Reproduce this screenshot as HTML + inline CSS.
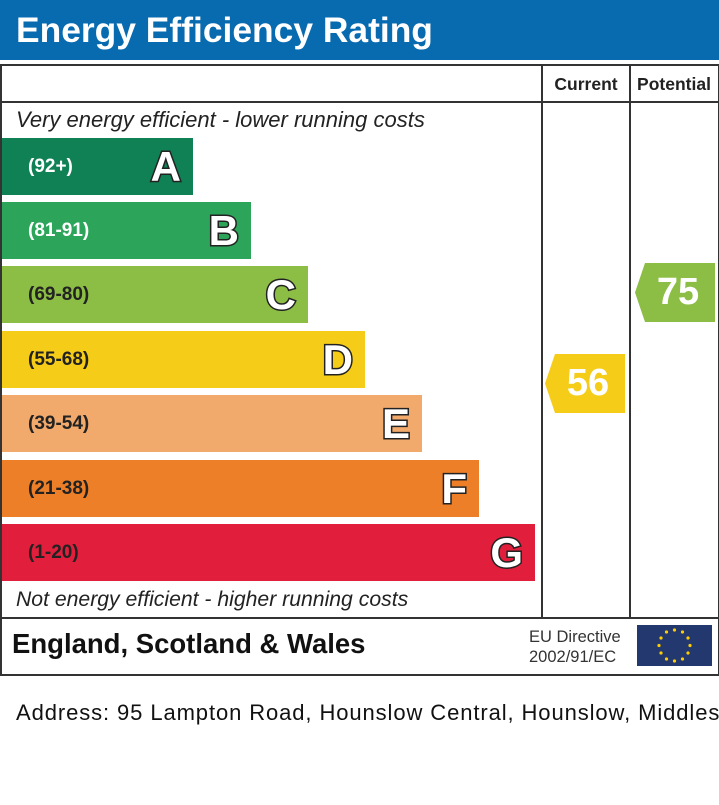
<!DOCTYPE html>
<html><head><meta charset="utf-8"><style>
body{margin:0;width:719px;height:805px;background:#fff;position:relative;font-family:"Liberation Sans",sans-serif;overflow:hidden}
.a{position:absolute}
.hdr{left:0;top:0;width:719px;height:60px;background:#086aaf;color:#fff;font-weight:bold;font-size:35.4px;line-height:60px;padding-left:16px;box-sizing:border-box}
.bar{position:absolute;left:2px;height:57px}
.bar .r{position:absolute;left:26px;top:0;line-height:57px;color:#fff;font-weight:bold;font-size:19px}
.bar .l{position:absolute;right:12px;top:0;line-height:57px;font-weight:bold;font-size:42px;color:#fff;-webkit-text-stroke:3px #222;paint-order:stroke fill}
.ln{background:#333}
.arr{position:absolute;width:80px;height:59px;clip-path:polygon(10px 0,100% 0,100% 100%,10px 100%,0 50%);color:#fff;font-weight:bold;font-size:38px;line-height:59px;text-align:center;padding-left:6px;box-sizing:border-box}
</style></head><body>
<div class="a hdr">Energy Efficiency Rating</div>
<div class="a" style="left:0;top:64px;width:716px;height:608px;border:2px solid #333"></div>
<div class="a ln" style="left:0;top:101px;width:719px;height:2px"></div>
<div class="a ln" style="left:0;top:617px;width:719px;height:2px"></div>
<div class="a ln" style="left:541px;top:64px;width:2px;height:554px"></div>
<div class="a ln" style="left:629px;top:64px;width:2px;height:554px"></div>
<div class="a" style="left:543px;top:74px;width:86px;text-align:center;font-weight:bold;font-size:17.5px;color:#222">Current</div>
<div class="a" style="left:631px;top:74px;width:86px;text-align:center;font-weight:bold;font-size:17.5px;color:#222">Potential</div>
<div class="a" style="left:16px;top:107px;font-style:italic;font-size:22px;color:#222">Very energy efficient - lower running costs</div>
<div class="bar" style="top:138px;width:191px;background:#0f8155"><span class="r">(92+)</span><span class="l">A</span></div>
<div class="bar" style="top:202px;width:249px;background:#2ca55a"><span class="r">(81-91)</span><span class="l">B</span></div>
<div class="bar" style="top:266px;width:306px;background:#8cbd45"><span class="r" style="color:#222">(69-80)</span><span class="l">C</span></div>
<div class="bar" style="top:331px;width:363px;background:#f5cc18"><span class="r" style="color:#222">(55-68)</span><span class="l">D</span></div>
<div class="bar" style="top:395px;width:420px;background:#f1a96c"><span class="r" style="color:#222">(39-54)</span><span class="l">E</span></div>
<div class="bar" style="top:460px;width:477px;background:#ec7f28"><span class="r" style="color:#222">(21-38)</span><span class="l">F</span></div>
<div class="bar" style="top:524px;width:533px;background:#e11f3c"><span class="r" style="color:#222">(1-20)</span><span class="l">G</span></div>
<div class="a" style="left:16px;top:588px;font-style:italic;font-size:21.2px;color:#222">Not energy efficient - higher running costs</div>
<div class="arr" style="left:545px;top:354px;background:#f5cc18">56</div>
<div class="arr" style="left:635px;top:263px;background:#8cbd45">75</div>
<div class="a" style="left:12px;top:628px;font-weight:bold;font-size:27.5px;color:#111">England, Scotland &amp; Wales</div>
<div class="a" style="left:529px;top:627px;font-size:16.5px;line-height:20px;color:#333">EU Directive<br>2002/91/EC</div>
<svg class="a" style="left:637px;top:625px" width="75" height="41" viewBox="0 0 75 41"><rect width="75" height="41" fill="#22386f"/>
<g fill="#fc0"><circle cx="37.5" cy="5" r="1.6"/><circle cx="45.5" cy="7" r="1.6"/><circle cx="51" cy="13" r="1.6"/><circle cx="53" cy="20.5" r="1.6"/><circle cx="51" cy="28" r="1.6"/><circle cx="45.5" cy="34" r="1.6"/><circle cx="37.5" cy="36" r="1.6"/><circle cx="29.5" cy="34" r="1.6"/><circle cx="24" cy="28" r="1.6"/><circle cx="22" cy="20.5" r="1.6"/><circle cx="24" cy="13" r="1.6"/><circle cx="29.5" cy="7" r="1.6"/></g></svg>
<div class="a" style="left:16px;top:700px;font-size:22px;letter-spacing:0.9px;color:#111;white-space:nowrap">Address: 95 Lampton Road, Hounslow Central, Hounslow, Middlesex</div>
</body></html>
